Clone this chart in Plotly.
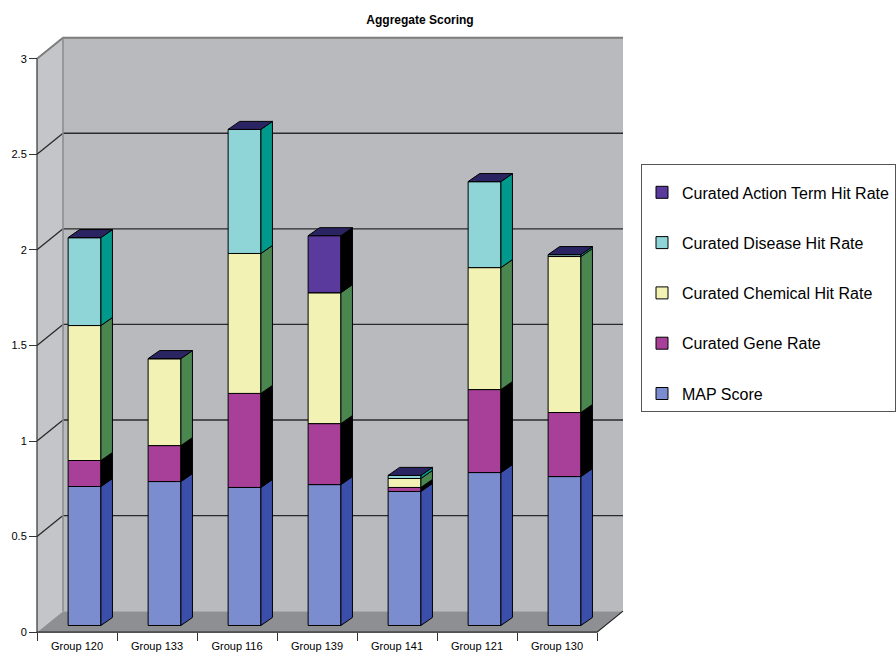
import numpy as np
import plotly.graph_objects as go

# ---------------- data ----------------
categories = ["Group 120", "Group 133", "Group 116", "Group 139", "Group 141", "Group 121", "Group 130"]
map_score = [0.727, 0.753, 0.722, 0.737, 0.701, 0.800, 0.779]
gene_rate = [0.136, 0.188, 0.492, 0.319, 0.021, 0.434, 0.335]
chemical_rate = [0.706, 0.455, 0.732, 0.685, 0.047, 0.638, 0.816]
disease_rate = [0.460, 0.0, 0.649, 0.0, 0.016, 0.450, 0.010]
action_rate = [0.0, 0.0, 0.0, 0.298, 0.0, 0.0, 0.0]
series_names = ["MAP Score", "Curated Gene Rate", "Curated Chemical Hit Rate",
                "Curated Disease Hit Rate", "Curated Action Term Hit Rate"]
y_ticks = [0, 0.5, 1, 1.5, 2, 2.5, 3]
y_tick_labels = ["0", "0.5", "1", "1.5", "2", "2.5", "3"]

# ---------------- style ----------------
front_colors = ["#7b8dce", "#a8409a", "#f2f2b4", "#8fd4d6", "#5a3a9c"]
side_colors = ["#3a4eaa", "#000000", "#4a8650", "#00998c", "#000000"]
top_color = "#2b2463"
FONT = "Liberation Sans, Arial, Helvetica, sans-serif"

XMIN, XMAX = -0.6, 6.95
YMIN, YMAX = -0.02, 3.15
WALL_DX, WALL_DY = 0.325, 0.11      # depth of the 3D box
BAR_DX, BAR_Y0 = 0.094, 0.035       # bar front face offset inside the box
BAR_W = 0.41
DEPTH_DX, DEPTH_DY = 0.144, 0.042   # bar depth

n = len(categories)
xi = np.arange(n, dtype=float)
series = [map_score, gene_rate, chemical_rate, disease_rate, action_rate]

fig = go.Figure()

cum = np.zeros(n)
for k, (name, vals) in enumerate(zip(series_names, series)):
    vals = np.array(vals, dtype=float)
    base = BAR_Y0 + cum
    fig.add_trace(go.Bar(
        x=xi + BAR_DX, y=vals, base=base, width=BAR_W, name=name,
        legendgroup=name, legendrank=100 - k,
        marker=dict(color=front_colors[k], line=dict(color="black", width=1)),
        hoverinfo="skip",
    ))
    xs, ys = [], []
    for i in range(n):
        if vals[i] <= 0:
            continue
        xr = xi[i] + BAR_DX + BAR_W / 2
        b = base[i]
        t = base[i] + vals[i]
        xs += [xr, xr + DEPTH_DX, xr + DEPTH_DX, xr, xr, None]
        ys += [b, b + DEPTH_DY, t + DEPTH_DY, t, b, None]
    fig.add_trace(go.Scatter(
        x=xs, y=ys, mode="lines", fill="toself", fillcolor=side_colors[k],
        line=dict(color="black", width=1), showlegend=False, hoverinfo="skip",
        legendgroup=name, legendrank=100 - k,
    ))
    cum = cum + vals

# top faces
xs, ys = [], []
for i in range(n):
    xl = xi[i] + BAR_DX - BAR_W / 2
    xr = xi[i] + BAR_DX + BAR_W / 2
    t = BAR_Y0 + cum[i]
    xs += [xl, xl + DEPTH_DX, xr + DEPTH_DX, xr, xl, None]
    ys += [t, t + DEPTH_DY, t + DEPTH_DY, t, t, None]
fig.add_trace(go.Scatter(
    x=xs, y=ys, mode="lines", fill="toself", fillcolor=top_color,
    line=dict(color="black", width=1), showlegend=False, hoverinfo="skip",
))

# ---------------- 3D box (walls, floor, gridlines) ----------------
x_left = -0.5
x_right = n - 0.5
ytop = y_ticks[-1]
bx0, bx1 = x_left + WALL_DX, x_right + WALL_DX
shapes = []
shapes.append(dict(type="path", xref="x", yref="y", layer="below",
                   path=f"M{bx0},{WALL_DY} L{bx1},{WALL_DY} L{bx1},{ytop + WALL_DY} L{bx0},{ytop + WALL_DY} Z",
                   fillcolor="#b9babe", line=dict(width=0)))
shapes.append(dict(type="path", xref="x", yref="y", layer="below",
                   path=f"M{x_left},0 L{x_left},{ytop} L{bx0},{ytop + WALL_DY} L{bx0},{WALL_DY} Z",
                   fillcolor="#c4c5c9", line=dict(width=0)))
shapes.append(dict(type="path", xref="x", yref="y", layer="below",
                   path=f"M{x_left},0 L{x_right},0 L{bx1},{WALL_DY} L{bx0},{WALL_DY} Z",
                   fillcolor="#8e8f93", line=dict(width=0)))
for v in y_ticks[1:-1]:
    shapes.append(dict(type="line", xref="x", yref="y", layer="below",
                       x0=bx0, x1=bx1, y0=v + WALL_DY, y1=v + WALL_DY,
                       line=dict(color="#2a2a2a", width=1.3)))
    shapes.append(dict(type="line", xref="x", yref="y", layer="below",
                       x0=x_left, x1=bx0, y0=v, y1=v + WALL_DY,
                       line=dict(color="#2a2a2a", width=1.3)))
shapes.append(dict(type="path", xref="x", yref="y", layer="below",
                   path=f"M{x_left},{ytop} L{bx0},{ytop + WALL_DY} L{bx1},{ytop + WALL_DY}",
                   line=dict(color="#7d7d7d", width=2)))
shapes.append(dict(type="line", xref="x", yref="y", layer="below",
                   x0=bx0, x1=bx0, y0=WALL_DY, y1=ytop + WALL_DY,
                   line=dict(color="#8a8a8a", width=1.5)))
shapes.append(dict(type="line", xref="x", yref="y", layer="below",
                   x0=x_left, x1=x_left, y0=0, y1=ytop,
                   line=dict(color="#333333", width=1.2)))
shapes.append(dict(type="path", xref="x", yref="y", layer="below",
                   path=f"M{x_left},0 L{x_right},0 L{bx1},{WALL_DY}",
                   line=dict(color="#222222", width=1.2)))

fig.update_layout(
    width=896, height=655,
    margin=dict(l=29, r=263, t=30, b=19, autoexpand=False),
    paper_bgcolor="white", plot_bgcolor="white",
    barmode="overlay",
    shapes=shapes,
    showlegend=True,
    title=dict(text="<b>Aggregate Scoring</b>", x=420 / 896, xanchor="center",
               y=1 - 20 / 655, yanchor="middle", automargin=False,
               font=dict(family=FONT, size=12, color="black")),
    legend=dict(
        xref="container", yref="container",
        x=641 / 896, y=1 - 164 / 655, xanchor="left", yanchor="top",
        traceorder="grouped", tracegroupgap=26.5,
        title=dict(text=" ", font=dict(size=8)),
        bordercolor="#555555", borderwidth=1, bgcolor="white",
        font=dict(family=FONT, size=16, color="black"),
    ),
    xaxis=dict(
        range=[XMIN, XMAX], showgrid=False, zeroline=False, showline=False,
        automargin=False,
        tickmode="array", tickvals=list(xi), ticktext=categories, ticks="",
        anchor="free", position=(0 - YMIN) / (YMAX - YMIN),
        tickfont=dict(family=FONT, size=11, color="black"),
        ticklabelstandoff=6,
        minor=dict(tickmode="array", tickvals=list(np.arange(-0.5, n, 1.0)),
                   ticks="outside", ticklen=8, tickcolor="#333333", showgrid=False),
    ),
    yaxis=dict(
        range=[YMIN, YMAX], showgrid=False, zeroline=False, showline=False,
        automargin=False,
        tickmode="array", tickvals=y_ticks, ticktext=y_tick_labels,
        ticks="outside", ticklen=8, tickcolor="#333333",
        anchor="free", position=(x_left - XMIN) / (XMAX - XMIN),
        tickfont=dict(family=FONT, size=11, color="black"),
    ),
)

fig.write_html("out.html")
